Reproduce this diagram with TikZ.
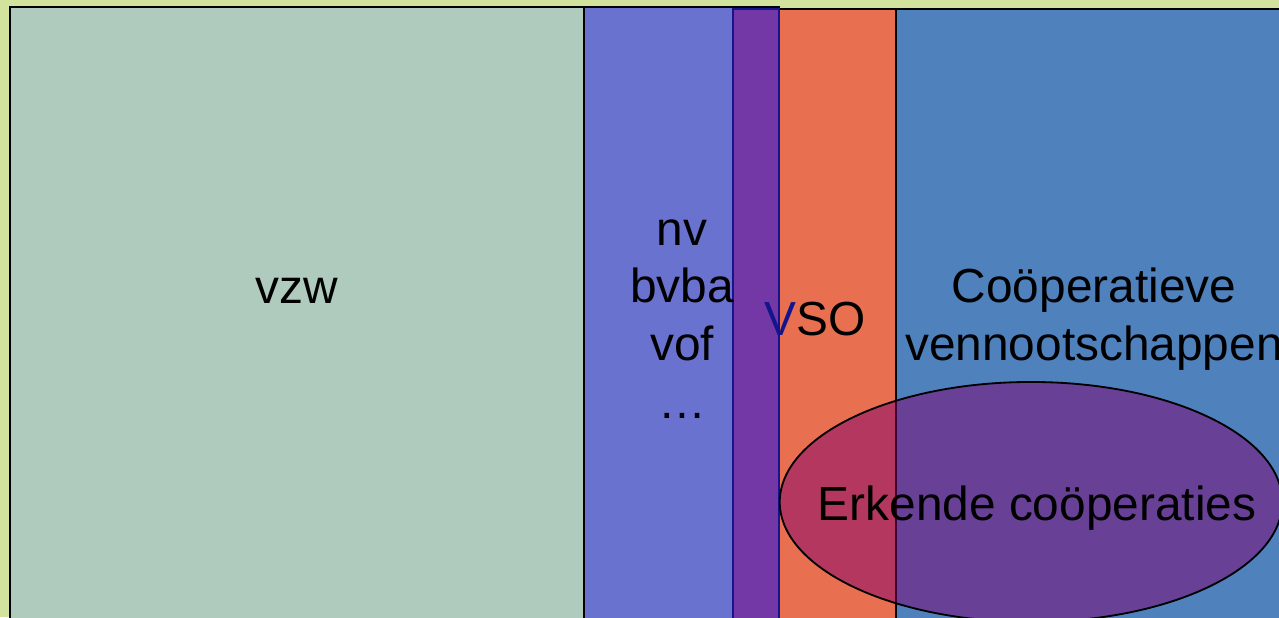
\documentclass[tikz,border=0pt]{standalone}
\usepackage{fontspec}
\setmainfont{Liberation Sans}
\usepackage{tikz}
\usetikzlibrary{positioning}
\definecolor{bgyellow}{RGB}{210,227,157}
\definecolor{vzwgreen}{RGB}{175,203,189}
\definecolor{nvblue}{RGB}{106,114,207}
\definecolor{mixpurple}{RGB}{115,56,165}
\definecolor{vsoorange}{RGB}{232,112,80}
\definecolor{coopblue}{RGB}{79,129,189}
\definecolor{erkendpurple}{RGB}{130,0,112}
\definecolor{stripnavy}{RGB}{20,20,140}
\tikzset{x=0.025cm, y=-0.025cm,
every block/.style={ % Sets the properties for each field
draw=black,
line width=1.3pt},
block/.style={every block},
label text/.style={ % Text inside the fields, placed on its last baseline
anchor=base,
align=center,
inner sep=0pt,
font=\fontsize{34}{41}\selectfont}}

\begin{document}
\begin{tikzpicture}
\useasboundingbox (0,0) rectangle (1279,617);
\clip (0,0) rectangle (1279,617);
\fill[bgyellow] (0,0) rectangle (1279,617);
\filldraw[block, fill=vzwgreen] (10,7) rectangle (584,650);
\filldraw[block, fill=coopblue] (896,9) rectangle (1290,650);
\filldraw[block, fill=vsoorange] (733,9) rectangle (896,650);
\filldraw[block, fill=nvblue] (584,7) rectangle (779,650);
\filldraw[block, draw=stripnavy, fill=mixpurple] (733,9) rectangle (779,650);
\filldraw[block, fill=erkendpurple, fill opacity=0.5] (1031,502) ellipse [x radius=6.28cm, y radius=3cm];
\node[label text] (vzw) at (297,303) {vzw};
\node[label text] (nv) at (682,418) {nv\\bvba\\vof\\…};
\node[label text] (vso) at (815,335) {\textcolor{stripnavy}{V}SO};
\node[label text] (coop) at (1094,360) {Coöperatieve\\vennootschappen};
\node[label text] (erkend) at (1037,520) {Erkende coöperaties};
\end{tikzpicture}
\end{document}
